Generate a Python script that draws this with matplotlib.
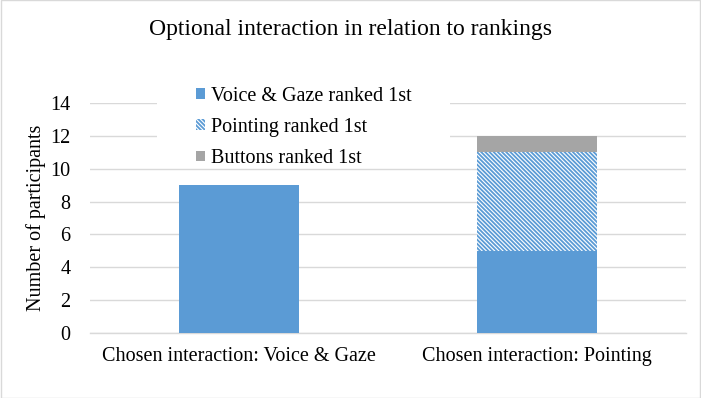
import numpy as np
import matplotlib
matplotlib.use("Agg")
import matplotlib.pyplot as plt
from matplotlib.patches import Patch, Rectangle

# data
categories = ["Chosen interaction: Voice & Gaze", "Chosen interaction: Pointing"]
series_names = ["Voice & Gaze ranked 1st", "Pointing ranked 1st", "Buttons ranked 1st"]
voice_gaze = [9, 5]
pointing = [0, 6]
buttons = [0, 1]
y_ticks = [0, 2, 4, 6, 8, 10, 12, 14]

BLUE = "#5B9BD5"
GREY = "#A5A5A5"
GRID = "#D9D9D9"
HATCH = "\\" * 8

plt.rcParams["font.family"] = ["Liberation Serif", "DejaVu Serif"]
plt.rcParams["hatch.linewidth"] = 1.3

fig = plt.figure(figsize=(7.01, 3.98), dpi=100)
ax = fig.add_axes([90 / 701, 1 - 333 / 398, 596 / 701, 230 / 398])

x = np.arange(len(categories))
width = 0.4
ax.bar(x, voice_gaze, width, color=BLUE, zorder=3)
ax.bar(x, pointing, width, bottom=voice_gaze, facecolor="white",
       edgecolor=BLUE, linewidth=0, hatch=HATCH, zorder=3)
bottom2 = np.add(voice_gaze, pointing)
ax.bar(x, buttons, width, bottom=bottom2, color=GREY, zorder=3)

ax.set_xlim(-0.5, len(categories) - 0.5)
ax.set_ylim(0, 14)
ax.set_yticks(y_ticks)
ax.set_xticks(x)
ax.set_xticklabels(categories)
ax.tick_params(axis="both", length=0, labelsize=14.5, colors="#000000")
ax.tick_params(axis="y", pad=14)
ax.tick_params(axis="x", pad=10)
ax.yaxis.grid(True, color=GRID, linewidth=1)
ax.axhline(0, color=GRID, linewidth=1, zorder=1, clip_on=False)
ax.set_axisbelow(True)
for s in ax.spines.values():
    s.set_visible(False)
ax.set_ylabel("Number of participants", fontsize=14.5, labelpad=3)

# white area behind the legend, like the Excel legend box
ax.add_patch(Rectangle((0.112, 0.74), 0.492, 0.35, transform=ax.transAxes,
                       facecolor="white", edgecolor="none", zorder=2, clip_on=False))

handles = [Patch(facecolor=BLUE),
           Patch(facecolor="white", edgecolor=BLUE, linewidth=0, hatch=HATCH),
           Patch(facecolor=GREY)]
fig.legend(handles, series_names, loc="upper left", bbox_to_anchor=(196 / 701, 1 - 87 / 398),
           frameon=False, fontsize=14.5, handlelength=0.45, handleheight=0.45,
           handletextpad=0.3, labelspacing=0.6, borderpad=0, borderaxespad=0)

fig.suptitle("Optional interaction in relation to rankings", fontsize=17, y=1 - 19 / 398,
             va="top")

# thin frame around the chart area
fig.patches.append(Rectangle((0.001, 0.001), 0.998, 0.998, transform=fig.transFigure,
                             facecolor="none", edgecolor=GRID, linewidth=1))

fig.savefig("out.png", dpi=100)
